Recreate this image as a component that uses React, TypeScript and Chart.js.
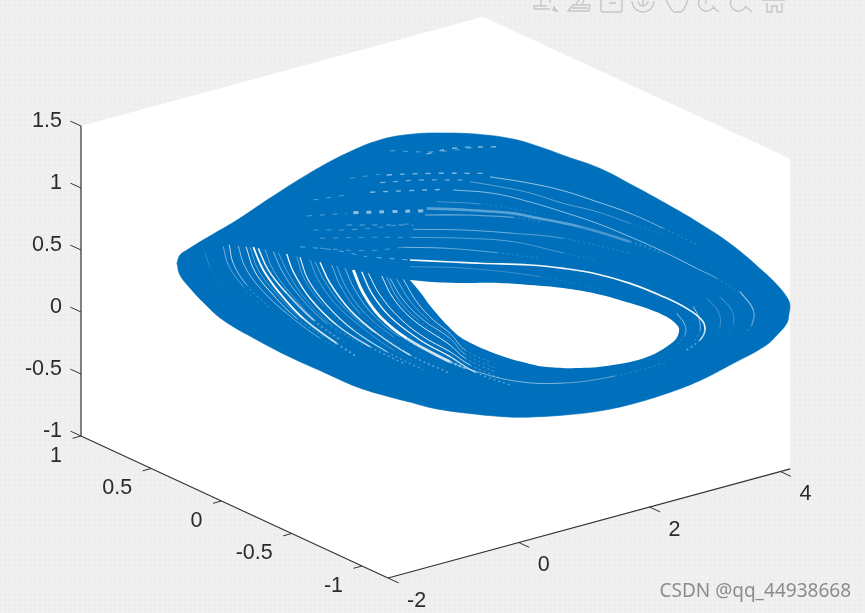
import React, { useEffect, useRef } from "react";
import { Chart, registerables } from "chart.js";

Chart.register(...registerables);

// Axis limits and tick values of the 3-D axes
const xLimits = [-2, 4.15];
const yLimits = [-1.185, 1];
const zLimits = [-1, 1.5];
const xTicks = [-2, 0, 2, 4];
const yTicks = [1, 0.5, 0, -0.5, -1];
const zTicks = [-1, -0.5, 0, 0.5, 1, 1.5];
const xTickLabels = ["-2", "0", "2", "4"];
const yTickLabels = ["1", "0.5", "0", "-0.5", "-1"];
const zTickLabels = ["-1", "-0.5", "0", "0.5", "1", "1.5"];

// Envelope of the attractor, read as (x, z) on the plane y = 0
const outerX = [-2.681, -2.635, -2.528, -2.283, -1.763, -1.258, -0.647, -0.081, 0.424, 0.928, 1.448, 1.953, 2.457, 2.87, 3.252, 3.772, 4.277, 4.781, 5.301, 5.806, 6.31, 6.524, 6.662, 6.692, 6.677, 6.646, 6.494, 6.31, 5.806, 5.301, 4.781, 4.277, 3.772, 3.252, 2.747, 2.396, 1.723, 1.218, 0.882, 0.576, 0.072, -0.448, -0.953, -1.457, -1.977, -2.283, -2.482, -2.635, -2.681];
const outerZ = [1.017, 1.075, 1.1, 1.145, 1.232, 1.337, 1.452, 1.531, 1.565, 1.54, 1.474, 1.39, 1.281, 1.158, 1.031, 0.859, 0.65, 0.432, 0.197, -0.053, -0.351, -0.494, -0.611, -0.672, -0.734, -0.802, -0.877, -0.94, -1.013, -1.077, -1.108, -1.116, -1.101, -1.058, -1.002, -0.952, -0.823, -0.71, -0.615, -0.53, -0.377, -0.181, 0.011, 0.221, 0.456, 0.645, 0.787, 0.914, 1.017];

// Opening in the middle of the attractor
const holeX = [0.882, 1.218, 1.723, 2.243, 2.717, 3.222, 3.741, 4.246, 4.751, 4.965, 4.995, 4.904, 4.506, 3.986, 3.481, 2.977, 2.717, 2.243, 1.723, 1.494, 1.218, 1.035, 0.882];
const holeZ = [0.369, 0.306, 0.225, 0.151, 0.067, -0.03, -0.152, -0.298, -0.466, -0.577, -0.639, -0.706, -0.77, -0.76, -0.712, -0.631, -0.57, -0.43, -0.235, -0.105, 0.096, 0.251, 0.369];

// Gaps between trajectory strands, lower-left sweep
const lowerGapsX = [
  [0.015, 0.168, 0.424, 0.832, 1.494, 1.723],
  [1.494, 1.723, 2.488, 3.252, 4.017, 4.781],
  [0.144, 0.297, 0.576, 1.035, 1.494, 1.876, 2.411],
  [0.245, 0.424, 0.729, 1.086, 1.494, 1.8, 2.258],
  [-0.494, -0.341, -0.035, 0.373, 0.882, 1.494],
  [-0.8, -0.673, -0.391, 0.015, 0.526, 1.086],
  [-1.003, -0.902, -0.647, -0.239, 0.271, 0.78],
  [-1.514, -1.361, -1.106, -0.749, -0.239, 0.067],
  [-1.437, -1.284, -1.003, -0.596, -0.188],
  [-1.625, -1.488, -1.208, -0.85, -0.443],
  [-1.743, -1.641, -1.385, -1.003, -0.494, -0.239],
  [-1.881, -1.82, -1.615, -1.258],
  [-1.972, -1.896, -1.667, -1.411],
  [-2.252, -2.176, -1.946],
  [-1.208, -1.055, -0.8, -0.391, 0.015],
  [0.45, 0.627, 0.933, 1.494, 1.723, 2.182],
  [0.576, 0.78, 1.086, 1.494, 1.723, 2.182],
  [0.78, 0.985, 1.239, 1.494, 1.723, 2.105],
  [-0.112, 0.041, 0.321, 0.729, 1.443],
  [-0.315, -0.162, 0.118, 0.526],
  [-1.564, -1.437, -1.156, -0.8, -0.341],
  [-1.335, -1.208, -0.927, -0.57, -0.086],
  [-1.131, -0.979, -0.723, -0.315, 0.168],
  [-0.85, -0.723, -0.443, -0.035],
  [-0.647, -0.52, -0.239, 0.168, 0.627, 1.086],
  [-0.57, -0.417, -0.112, 0.321, 0.832],
  [-0.239, -0.086, 0.194, 0.627, 1.086],
  [0.526, 0.703, 1.009, 1.494],
  [0.679, 0.882, 1.162, 1.494],
];
const lowerGapsZ = [
  [0.574, 0.365, 0.14, -0.094, -0.377, -0.46],
  [-0.377, -0.46, -0.675, -0.8, -0.853, -0.858],
  [0.542, 0.346, 0.118, -0.136, -0.336, -0.515, -0.696],
  [0.515, 0.315, 0.083, -0.117, -0.296, -0.447, -0.618],
  [0.71, 0.519, 0.259, 0.013, -0.235, -0.47],
  [0.794, 0.592, 0.35, 0.09, -0.157, -0.385],
  [0.849, 0.692, 0.441, 0.167, -0.081, -0.287],
  [0.977, 0.772, 0.547, 0.294, 0.019, -0.132],
  [0.957, 0.76, 0.532, 0.259, 0.039],
  [0.997, 0.776, 0.548, 0.309, 0.102],
  [1.019, 0.838, 0.614, 0.371, 0.097, -0.008],
  [1.048, 0.891, 0.687, 0.448],
  [1.047, 0.889, 0.681, 0.496],
  [1.039, 0.915, 0.68],
  [0.897, 0.701, 0.476, 0.202, 0.01],
  [0.464, 0.259, 0.04, -0.242, -0.38, -0.558],
  [0.427, 0.223, 0.018, -0.188, -0.348, -0.526],
  [0.39, 0.18, -0.004, -0.148, -0.315, -0.467],
  [0.606, 0.41, 0.168, -0.065, -0.369],
  [0.662, 0.452, 0.21, -0.036],
  [0.984, 0.782, 0.548, 0.31, 0.061],
  [0.935, 0.749, 0.508, 0.255, -0.002],
  [0.878, 0.69, 0.452, 0.178, -0.052],
  [0.806, 0.599, 0.358, 0.111],
  [0.75, 0.57, 0.328, 0.082, -0.158, -0.359],
  [0.725, 0.542, 0.284, 0.033, -0.202],
  [0.643, 0.441, 0.2, -0.051, -0.265],
  [0.443, 0.24, 0.029, -0.215],
  [0.406, 0.202, 0.007, -0.169],
];
const lowerGapWidths = [2.8, 0.7, 1.3, 1, 1.5, 1.2, 1.4, 1.8, 1.5, 1, 0.9, 1, 0.8, 0.6, 0.9, 1, 0.8, 0.9, 0.9, 0.8, 0.7, 0.7, 0.7, 0.7, 0.7, 0.7, 0.7, 0.7, 0.7];
const lowerGapAlphas = [1, 0.7, 0.95, 0.9, 0.95, 0.85, 0.95, 1, 0.9, 0.85, 0.6, 0.75, 0.55, 0.4, 0.6, 0.85, 0.7, 0.75, 0.55, 0.55, 0.5, 0.55, 0.5, 0.5, 0.5, 0.55, 0.55, 0.6, 0.6];

// Gaps between strands, upper band and rings on the right
const upperGapsX = [
  [0.882, 1.443, 1.953, 2.717, 3.226, 3.737, 4.246, 4.755, 5.113, 5.343, 5.393, 5.316, 5.113],
  [4.96, 5.087, 5.087, 4.96],
  [5.214, 5.291, 5.316, 5.214],
  [5.419, 5.596, 5.622, 5.52],
  [5.622, 5.801, 5.826, 5.725],
  [5.928, 6.131, 6.107, 6.005],
  [2.105, 2.717, 3.226, 3.737, 4.246, 4.755, 5.316],
  [1.8, 2.258, 2.717, 3.226, 3.737, 4.246, 4.755],
  [1.544, 2.156, 2.717, 3.226, 3.737, 4.246, 4.755, 5.266, 5.572, 5.979],
  [1.138, 1.749, 2.462, 2.717, 3.481, 4.246, 4.755],
  [0.933, 1.697, 2.462, 3.226, 4.246],
  [0.933, 1.697, 2.462, 3.226, 3.737],
  [0.78, 1.443, 2.208, 2.87],
  [0.882, 1.749, 2.87, 3.787],
  [1.29, 1.953, 2.87],
  [1.112, 1.749, 2.462, 2.87],
];
const upperGapsZ = [
  [0.531, 0.437, 0.351, 0.228, 0.128, 0.01, -0.139, -0.319, -0.465, -0.591, -0.679, -0.749, -0.801],
  [-0.482, -0.595, -0.676, -0.738],
  [-0.465, -0.557, -0.669, -0.76],
  [-0.427, -0.56, -0.685, -0.778],
  [-0.444, -0.577, -0.687, -0.767],
  [-0.447, -0.623, -0.741, -0.794],
  [1.027, 0.887, 0.754, 0.593, 0.426, 0.232, 0.009],
  [1.031, 0.925, 0.809, 0.652, 0.512, 0.345, 0.178],
  [1.001, 0.886, 0.736, 0.582, 0.419, 0.237, 0.044, -0.164, -0.288, -0.481],
  [0.911, 0.81, 0.681, 0.618, 0.427, 0.197, 0.031],
  [0.771, 0.656, 0.52, 0.37, 0.103],
  [0.706, 0.59, 0.452, 0.252, 0.123],
  [0.648, 0.545, 0.4, 0.26],
  [0.477, 0.34, 0.112, -0.119],
  [0.943, 0.829, 0.623],
  [0.861, 0.77, 0.649, 0.556],
];
const upperGapWidths = [1.6, 0.8, 0.9, 0.6, 0.6, 1.2, 0.9, 0.7, 0.9, 2.6, 0.8, 0.7, 0.8, 0.6, 0.7, 1.2];
const upperGapAlphas = [0.95, 0.7, 0.7, 0.5, 0.5, 0.5, 0.65, 0.5, 0.6, 0.35, 0.55, 0.5, 0.6, 0.45, 0.5, 0.45];

// Broken gaps in the dense upper part
const brokenGapsX = [
  [0.015, 0.576, 1.086],
  [0.271, 0.832, 1.443],
  [0.526, 1.188, 2.003],
  [1.138, 1.544, 2.208],
  [0.424, 1.035, 1.749],
  [-0.8, -0.291, 0.22],
  [0.373, 0.882],
  [-0.086, 0.424, 0.933],
  [-0.596, -0.086],
  [-0.697, -0.086],
  [0.576, 1.29, 1.953],
  [-0.035, 0.526],
  [-0.596, 0.067, 0.933],
  [-0.494, 0.22, 0.933],
  [-0.494, 0.22, 0.78],
];
const brokenGapsZ = [
  [1.036, 0.965, 0.899],
  [1.165, 1.097, 1.021],
  [1.268, 1.186, 1.069],
  [1.349, 1.337, 1.255],
  [1.22, 1.154, 1.052],
  [0.879, 0.78, 0.652],
  [0.623, 0.531],
  [0.952, 0.879, 0.806],
  [1.227, 1.194],
  [1.112, 1.046],
  [1.456, 1.346, 1.291],
  [1.321, 1.281],
  [0.985, 0.895, 0.819],
  [0.903, 0.809, 0.706],
  [0.823, 0.701, 0.648],
];
const brokenGapWidths = [3, 1.4, 1.4, 1.4, 1.2, 1, 1, 1.2, 1, 1, 1, 1, 0.9, 0.9, 0.9];
const brokenGapAlphas = [0.55, 0.5, 0.5, 0.5, 0.45, 0.4, 0.45, 0.4, 0.35, 0.35, 0.35, 0.3, 0.35, 0.35, 0.35];

const PLANE_Y = 0;
const BLUE = "#0070bc";
const INK = "#333333";
const TEXT = "#2b2b2b";

function project(x: number, y: number, z: number) {
  return {
    x: 352.3 + 65.4 * x - 140.5 * y,
    y: 341.5 - 17.75 * x - 65 * y - 124 * z,
  };
}

const onPlane = (xs: number[], zs: number[]) => xs.map((x, i) => project(x, PLANE_Y, zs[i]));

function polyline(data: { x: number; y: number }[], extra: Record<string, unknown> = {}) {
  return {
    data,
    showLine: true,
    pointRadius: 0,
    pointHoverRadius: 0,
    borderWidth: 1,
    borderColor: INK,
    backgroundColor: "transparent",
    tension: 0,
    fill: false,
    ...extra,
  };
}

// A strand thins out towards its end: the last two stretches fade and break up.
function fadingStrand(data: { x: number; y: number }[], width: number, alpha: number) {
  const n = data.length;
  return polyline(data, {
    borderWidth: width,
    borderColor: `rgba(255,255,255,${alpha})`,
    tension: 0.4,
    segment: {
      borderColor: (ctx: any) => {
        const left = n - 2 - ctx.p0DataIndex;
        const k = left === 0 ? 0.4 : left === 1 ? 0.8 : 1;
        return `rgba(255,255,255,${alpha * k})`;
      },
      borderDash: (ctx: any) => (n - 2 - ctx.p0DataIndex === 0 ? [2, 3] : undefined),
    },
  });
}

const tickLabelPlugin = {
  id: "tickLabels",
  afterDatasetsDraw(chart: any) {
    const { ctx, scales } = chart;
    const put = (p: { x: number; y: number }, text: string, dx: number, dy: number, align: CanvasTextAlign) => {
      ctx.textAlign = align;
      ctx.fillText(text, scales.x.getPixelForValue(p.x) + dx, scales.y.getPixelForValue(p.y) + dy);
    };
    ctx.save();
    ctx.font = '21.5px "Liberation Sans", Arial, sans-serif';
    ctx.fillStyle = TEXT;
    ctx.textBaseline = "middle";
    zTicks.forEach((t, i) => put(project(xLimits[0], yLimits[1], t), zTickLabels[i], -19, -5, "right"));
    yTicks.forEach((t, i) => put(project(xLimits[0], t, zLimits[0]), yTickLabels[i], -19, 20, "right"));
    xTicks.forEach((t, i) => put(project(t, yLimits[0], zLimits[0]), xTickLabels[i], 19, 23, "left"));
    ctx.font = '19px "Noto Sans", sans-serif';
    ctx.fillStyle = "#8c8c8c";
    ctx.textAlign = "right";
    ctx.fillText("CSDN @qq_44938668", 851, 592);
    ctx.restore();
  },
};

export default function App() {
  const ref = useRef<HTMLCanvasElement>(null);

  useEffect(() => {
    document.body.style.margin = "0";
    document.body.style.backgroundColor = "#eeeeee";
    document.body.style.backgroundImage = "radial-gradient(#f3f3f3 1px, transparent 1.2px)";
    document.body.style.backgroundSize = "5px 5px";

    const [x0, x1] = xLimits;
    const [y0, y1] = yLimits;
    const [z0, z1] = zLimits;
    const wall = [
      project(x0, y1, z1), project(x1, y1, z1), project(x1, y0, z1),
      project(x1, y0, z0), project(x0, y0, z0), project(x0, y1, z0), project(x0, y1, z1),
    ];

    const layers: any[] = [];
    layers.push(polyline(wall, { borderWidth: 0, backgroundColor: "#ffffff", fill: "shape" }));
    layers.push(polyline(onPlane(outerX, outerZ), { borderWidth: 0.6, borderColor: BLUE, backgroundColor: BLUE, fill: "shape", tension: 0.4 }));
    layers.push(polyline(onPlane(holeX, holeZ), { borderWidth: 0, backgroundColor: "#ffffff", fill: "shape", tension: 0.4 }));

    lowerGapsX.forEach((xs, i) => layers.push(fadingStrand(onPlane(xs, lowerGapsZ[i]), lowerGapWidths[i], lowerGapAlphas[i])));
    upperGapsX.forEach((xs, i) => layers.push(fadingStrand(onPlane(xs, upperGapsZ[i]), upperGapWidths[i], upperGapAlphas[i])));
    brokenGapsX.forEach((xs, i) => layers.push(polyline(onPlane(xs, brokenGapsZ[i]), {
      borderWidth: brokenGapWidths[i],
      borderColor: `rgba(255,255,255,${brokenGapAlphas[i]})`,
      borderDash: [5, 8],
      tension: 0.4,
    })));

    layers.push(polyline([project(x0, y1, z0), project(x0, y1, z1)], { borderWidth: 1.2 }));
    layers.push(polyline([project(x0, y1, z0), project(x0, y0, z0)], { borderWidth: 1.2 }));
    layers.push(polyline([project(x0, y0, z0), project(x1, y0, z0)], { borderWidth: 1.2 }));
    zTicks.forEach((t) => layers.push(polyline([project(x0, y1, t), project(x0, y1 + 0.075, t)])));
    yTicks.forEach((t) => layers.push(polyline([project(x0, t, z0), project(x0 - 0.13, t, z0)])));
    xTicks.forEach((t) => layers.push(polyline([project(t, y0, z0), project(t, y0 - 0.075, z0)])));

    layers.forEach((d, i) => { d.order = layers.length - i; });

    const chart = new Chart(ref.current as HTMLCanvasElement, {
      type: "scatter",
      data: { datasets: layers },
      plugins: [tickLabelPlugin],
      options: {
        animation: false,
        responsive: false,
        layout: { padding: 0 },
        plugins: { legend: { display: false }, title: { display: false }, tooltip: { enabled: false } },
        events: [],
        scales: {
          x: { type: "linear", display: false, min: 0, max: 865 },
          y: { type: "linear", display: false, min: 0, max: 613, reverse: true },
        },
      },
    });
    return () => chart.destroy();
  }, []);

  return (
    <div style={{ position: "relative", width: 865, height: 613, overflow: "hidden" }}>
      <canvas ref={ref} width={865} height={613} style={{ display: "block", filter: "blur(0.35px)" }} />
      <svg width={865} height={14} style={{ position: "absolute", left: 0, top: 0 }} fill="none" stroke="#c6c6c6" strokeWidth={1.4}>
        <path d="M534 9h16M534 9v-3h13M541 6V0M550 0v3M553 10l4 1-3-4z" />
        <path d="M568 11h21l1-6h-17zM576 4l3-4M582 4l2-4M572 8h16" />
        <path d="M601 0v10a2 2 0 0 0 2 2h17a2 2 0 0 0 2-2V0M609 3h7" />
        <path d="M632 1a11 11 0 0 0 22 0M638 1a5 5 0 0 0 10 0M643 0v6" />
        <path d="M666 0l5 9 3 3h7l3-3 4-9" />
        <path d="M699 0a8 8 0 0 0 15 6M712 6l7 6M706 0v4" />
        <path d="M731 0a8 8 0 0 0 15 6M745 6l7 6" />
        <path d="M767 3v9h5V6h5v6h5V3M762 0h23" />
      </svg>
    </div>
  );
}
